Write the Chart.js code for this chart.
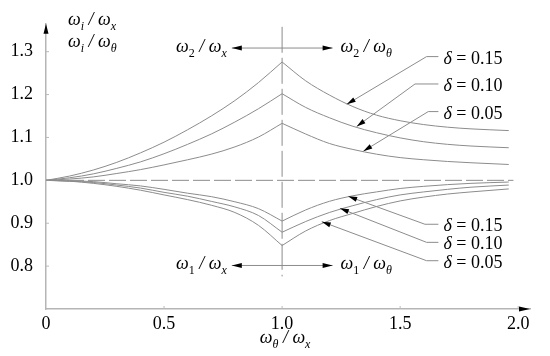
<!DOCTYPE html>
<html>
<head>
<meta charset="UTF-8">
<title>Frequency ratios</title>
<script src="https://cdn.jsdelivr.net/npm/chart.js"></script>
<style>
  html, body { margin: 0; padding: 0; background: #fff; font-family: "Liberation Serif", serif; }
</style>
</head>
<body>
<canvas id="chart" width="550" height="356"></canvas>
<script>
// x = ωθ / ωx
const xLeft  = [0, 0.1, 0.2, 0.3, 0.4, 0.5, 0.6, 0.7, 0.8, 0.9, 1.0];
const xRight = [1.0, 1.1, 1.2, 1.3, 1.4, 1.5, 1.6, 1.7, 1.8, 1.96];

// upper branch: ω2 / ωx left of 1.0, ω2 / ωθ right of 1.0
const w2x_15 = [1.000, 1.010, 1.024, 1.042, 1.064, 1.089, 1.118, 1.150, 1.186, 1.228, 1.276];
const w2x_10 = [1.000, 1.006, 1.015, 1.028, 1.043, 1.062, 1.084, 1.108, 1.136, 1.167, 1.202];
const w2x_05 = [1.000, 1.003, 1.008, 1.016, 1.025, 1.036, 1.048, 1.061, 1.078, 1.101, 1.133];
const w2t_15 = [1.276, 1.232, 1.199, 1.172, 1.152, 1.139, 1.130, 1.124, 1.120, 1.116];
const w2t_10 = [1.202, 1.170, 1.146, 1.126, 1.111, 1.099, 1.090, 1.084, 1.080, 1.076];
const w2t_05 = [1.133, 1.108, 1.086, 1.072, 1.061, 1.053, 1.048, 1.044, 1.041, 1.037];

// lower branch: ω1 / ωx left of 1.0, ω1 / ωθ right of 1.0
const w1x_15 = [1.000, 0.999, 0.997, 0.992, 0.987, 0.979, 0.970, 0.962, 0.950, 0.934, 0.905];
const w1x_10 = [1.000, 0.998, 0.995, 0.989, 0.982, 0.972, 0.963, 0.951, 0.938, 0.918, 0.879];
const w1x_05 = [1.000, 0.998, 0.993, 0.986, 0.977, 0.966, 0.955, 0.942, 0.925, 0.895, 0.848];
const w1t_15 = [0.905, 0.931, 0.951, 0.964, 0.973, 0.981, 0.986, 0.990, 0.993, 0.996];
const w1t_10 = [0.879, 0.904, 0.925, 0.941, 0.955, 0.966, 0.973, 0.979, 0.984, 0.989];
const w1t_05 = [0.848, 0.882, 0.906, 0.923, 0.939, 0.952, 0.961, 0.968, 0.973, 0.980];

const xTicks = [0, 0.5, 1.0, 1.5, 2.0];
const yTicks = [0.8, 0.9, 1.0, 1.1, 1.2, 1.3];
const deltaLabels = ['0.15', '0.10', '0.05'];

const FONT = '"Liberation Serif", Tinos, "Times New Roman", serif';
const LINE = '#8c8c8c';

Chart.defaults.font.family = FONT;

function pts(xs, ys) {
    return xs.map((x, i) => ({ x: x, y: ys[i] }));
}

function curve(label, xs, ys) {
    return {
        label: label,
        data: pts(xs, ys),
        borderColor: LINE,
        borderWidth: 1,
        pointRadius: 0,
        cubicInterpolationMode: 'monotone',
        fill: false
    };
}

const datasets = [
    curve('ω2/ωx δ=0.15', xLeft, w2x_15),
    curve('ω2/ωx δ=0.10', xLeft, w2x_10),
    curve('ω2/ωx δ=0.05', xLeft, w2x_05),
    curve('ω2/ωθ δ=0.15', xRight, w2t_15),
    curve('ω2/ωθ δ=0.10', xRight, w2t_10),
    curve('ω2/ωθ δ=0.05', xRight, w2t_05),
    curve('ω1/ωx δ=0.15', xLeft, w1x_15),
    curve('ω1/ωx δ=0.10', xLeft, w1x_10),
    curve('ω1/ωx δ=0.05', xLeft, w1x_05),
    curve('ω1/ωθ δ=0.15', xRight, w1t_15),
    curve('ω1/ωθ δ=0.10', xRight, w1t_10),
    curve('ω1/ωθ δ=0.05', xRight, w1t_05)
];

// text with subscripts: parts = [[text, italic, sub], ...], y is the baseline
function richText(ctx, parts, x, y, align) {
    const fontOf = p => (p[1] ? 'italic ' : 'normal ') + (p[2] ? '12px ' : '18px ') + FONT;
    let w = 0;
    parts.forEach(p => { ctx.font = fontOf(p); w += ctx.measureText(p[0]).width; });
    let cx = align === 'right' ? x - w : align === 'center' ? x - w / 2 : x;
    ctx.textAlign = 'left';
    ctx.textBaseline = 'alphabetic';
    ctx.fillStyle = '#000';
    parts.forEach(p => {
        ctx.font = fontOf(p);
        ctx.fillText(p[0], cx, y + (p[2] ? 5 : 0));
        cx += ctx.measureText(p[0]).width;
    });
}

function arrowHead(ctx, fx, fy, tx, ty, len, half) {
    const a = Math.atan2(ty - fy, tx - fx);
    ctx.beginPath();
    ctx.moveTo(tx, ty);
    ctx.lineTo(tx - len * Math.cos(a) + half * Math.sin(a), ty - len * Math.sin(a) - half * Math.cos(a));
    ctx.lineTo(tx - len * Math.cos(a) - half * Math.sin(a), ty - len * Math.sin(a) + half * Math.cos(a));
    ctx.closePath();
    ctx.fillStyle = '#000';
    ctx.fill();
}

function omega(num, den) {
    return [['ω', true], [num, num !== '1' && num !== '2', true], [' / ', true], ['ω', true], [den, true, true]];
}

const decorations = {
    id: 'decorations',
    afterDraw(chart) {
        const ctx = chart.ctx;
        const xs = chart.scales.x, ys = chart.scales.y;
        const X = v => xs.getPixelForValue(v), Y = v => ys.getPixelForValue(v);
        const a = chart.chartArea;
        ctx.save();

        // small tick marks inside the axes
        ctx.strokeStyle = '#bbb';
        ctx.lineWidth = 1;
        ctx.beginPath();
        xTicks.slice(1).forEach(v => { ctx.moveTo(X(v), a.bottom); ctx.lineTo(X(v), a.bottom - 3); });
        yTicks.forEach(v => { ctx.moveTo(a.left, Y(v)); ctx.lineTo(a.left + 3, Y(v)); });
        ctx.stroke();

        // axis arrows
        arrowHead(ctx, a.left, a.top + 20, a.left, a.top, 10, 2.5);
        arrowHead(ctx, a.right - 20, a.bottom, a.right, a.bottom, 11, 2.5);

        // dashed reference lines
        ctx.strokeStyle = LINE;
        ctx.lineWidth = 1;
        ctx.setLineDash([17, 4]);
        ctx.beginPath();
        ctx.moveTo(X(0), Y(1.0));
        ctx.lineTo(X(1.98), Y(1.0));
        ctx.stroke();
        ctx.setLineDash([26, 5]);
        ctx.beginPath();
        ctx.moveTo(X(1.0), Y(1.358));
        ctx.lineTo(X(1.0), Y(0.776));
        ctx.stroke();
        ctx.setLineDash([]);

        // double arrows with branch labels
        [[1.3085, '2'], [0.8015, '1']].forEach(([yv, n]) => {
            const y = Y(yv);
            const l = X(0.787), r = X(1.214);
            ctx.strokeStyle = LINE;
            ctx.beginPath();
            ctx.moveTo(l, y);
            ctx.lineTo(r, y);
            ctx.stroke();
            arrowHead(ctx, r, y, l, y, 10, 2.5);
            arrowHead(ctx, l, y, r, y, 10, 2.5);
            richText(ctx, omega(n, 'x'), l - 5, y + 4, 'right');
            richText(ctx, omega(n, 'θ'), r + 8, y + 4, 'left');
        });

        // δ leaders: [elbow x, elbow y, tip x, tip y]
        const leaders = [
            [1.612, 1.2885, 1.274, 1.1774],
            [1.563, 1.2247, 1.316, 1.1257],
            [1.619, 1.1603, 1.344, 1.0680],
            [1.605, 0.8976, 1.280, 0.9627],
            [1.612, 0.8554, 1.245, 0.9347],
            [1.612, 0.8126, 1.168, 0.9036]
        ];
        leaders.forEach((ld, i) => {
            const ex = X(ld[0]), ey = Y(ld[1]), tx = X(ld[2]), ty = Y(ld[3]);
            const sx = X(1.662);
            ctx.strokeStyle = LINE;
            ctx.beginPath();
            ctx.moveTo(sx, ey);
            ctx.lineTo(ex, ey);
            ctx.lineTo(tx, ty);
            ctx.stroke();
            arrowHead(ctx, ex, ey, tx, ty, 9, 2.5);
            richText(ctx, [['δ', true], [' = ' + deltaLabels[i % 3], false]], sx + 5, ey + 7, 'left');
        });

        // axis titles
        richText(ctx, omega('i', 'x'), a.left + 22, 25, 'left');
        richText(ctx, omega('i', 'θ'), a.left + 22, 47, 'left');
        richText(ctx, [['ω', true], ['θ', true, true], [' / ', true], ['ω', true], ['x', true, true]], X(1.0) + 3, 343, 'center');

        ctx.restore();
    }
};

function draw() {
    new Chart(document.getElementById('chart'), {
        type: 'line',
        data: { datasets: datasets },
        options: {
            responsive: false,
            animation: false,
            layout: { padding: { top: 10, right: 20, left: 0, bottom: 0 } },
            plugins: { legend: { display: false }, tooltip: { enabled: false } },
            scales: {
                x: {
                    type: 'linear',
                    min: 0,
                    max: 2.05,
                    afterBuildTicks: s => { s.ticks = xTicks.map(v => ({ value: v })); },
                    afterFit: s => { s.height = 47; },
                    ticks: {
                        color: '#000',
                        font: { family: FONT, size: 18 },
                        padding: 4,
                        maxRotation: 0,
                        autoSkip: false,
                        callback: v => v === 0 ? '0' : v.toFixed(1)
                    },
                    grid: { display: false, drawTicks: false },
                    border: { color: '#b5b5b5', width: 1.5 }
                },
                y: {
                    type: 'linear',
                    min: 0.7,
                    max: 1.365,
                    afterBuildTicks: s => { s.ticks = yTicks.map(v => ({ value: v })); },
                    afterFit: s => { s.width = 46; },
                    ticks: {
                        color: '#000',
                        font: { family: FONT, size: 18 },
                        padding: 13,
                        callback: v => v.toFixed(1)
                    },
                    grid: { display: false, drawTicks: false },
                    border: { color: '#b5b5b5', width: 1.5 }
                }
            }
        },
        plugins: [decorations]
    });
}

// make sure the serif faces are ready before the first paint
Promise.all([
    document.fonts.load('18px "Liberation Serif"'),
    document.fonts.load('italic 18px "Liberation Serif"')
]).then(draw, draw);
</script>
</body>
</html>
